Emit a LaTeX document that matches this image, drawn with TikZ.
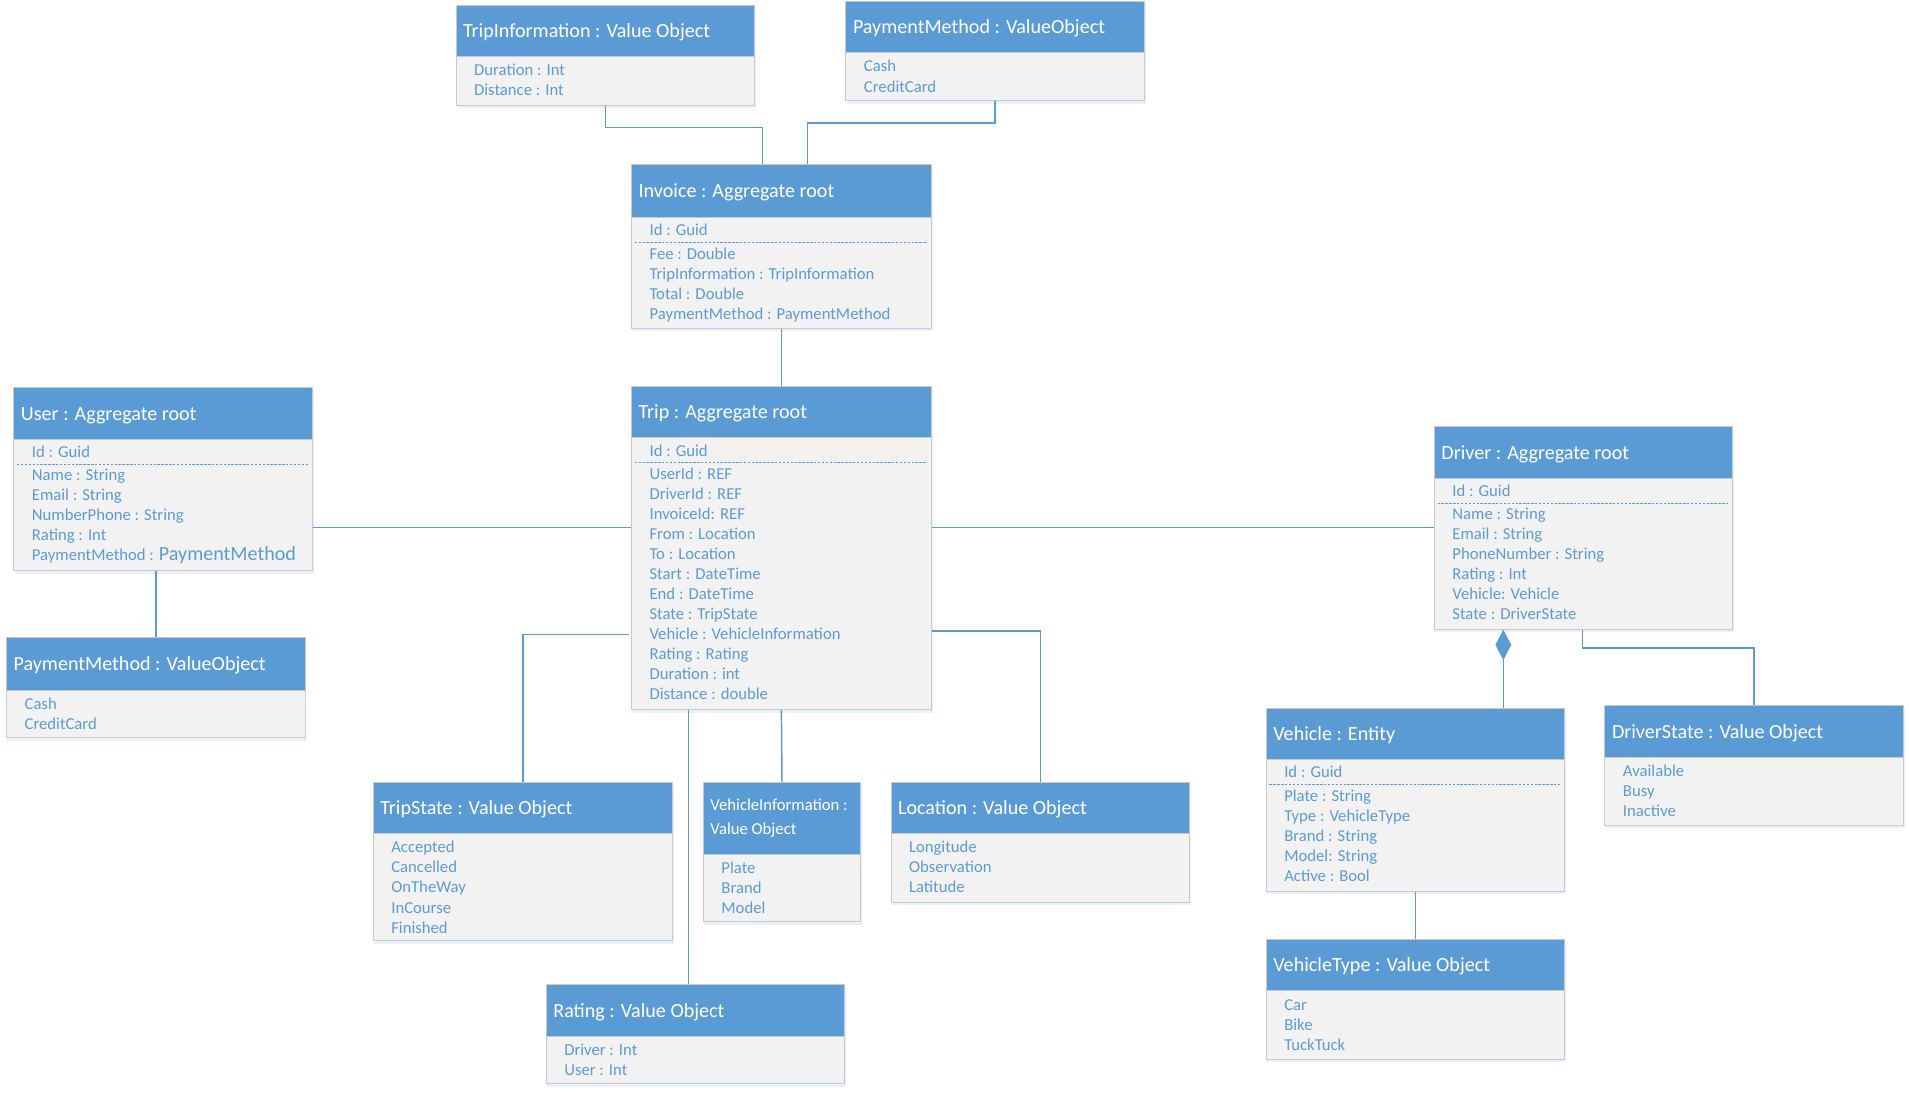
\documentclass[tikz,border=0pt]{standalone}
\usepackage{fontspec}
\setmainfont{Carlito}
\usetikzlibrary{arrows.meta,calc}
\definecolor{ublue}{HTML}{5B9BD5}
\definecolor{ubody}{HTML}{F2F2F2}
\definecolor{uedge}{HTML}{C9C9C9}
\tikzset{
 hdr/.style={fill=ublue, draw=uedge, line width=0.8pt, anchor=north west, inner sep=0pt},
 bdy/.style={fill=ubody, draw=uedge, line width=0.8pt, anchor=north west, inner sep=0pt},
 ttl/.style={anchor=base west, text=white, font=\fontsize{16.5}{19}\selectfont, inner sep=0pt},
 attr/.style={anchor=base west, text=ublue, font=\fontsize{13.7}{16}\selectfont, inner sep=0pt},
 sep/.style={ublue, dash pattern=on 2pt off 1.2pt, line width=0.9pt},
 link/.style={draw=ublue, line width=1.2pt},
 shd/.style={fill=ublue!30, opacity=0.45},
}
\newcommand\umlclass[9]{%
 \fill[shd] (#2+1,#3+2) rectangle (#2+#4+1.5,#3+#5+#6+3);
 \node[hdr, minimum width=#4pt, minimum height=#5pt] (#1-h) at (#2,#3) {};
 \node[bdy, minimum width=#4pt, minimum height=#6pt] (#1) at (#2,#3+#5) {};
 \node[ttl] (#1-title) at (#2+6,#3+#5/2+5.8) {#7};
 \ifnum#8=1
   \node[attr] (#1-id) at (#2+15,#3+#5+11+4.6) {Id : Guid};
   \draw[sep] (#2+3,#3+#5+21) -- (#2+#4-3,#3+#5+21);
   \foreach \t [count=\i] in {#9} \node[attr] (#1-\i) at (#2+15,#3+#5+30+4.6+16.45*\i-16.45) {\t};
 \else
   \foreach \t [count=\i] in {#9} \node[attr] (#1-\i) at (#2+15,#3+#5+11.5+4.6+16.45*\i-16.45) {\t};
 \fi
}
\begin{document}
\begin{tikzpicture}[x=1pt,y=-1pt]
\useasboundingbox[fill=white] (0,0) rectangle (1567,896.4);
% classes
\umlclass{tripinfo}{374}{4}{245}{42}{40}{TripInformation : Value Object}{0}{Duration : Int, Distance : Int}
\umlclass{pmtop}{694}{1}{245}{42}{39}{PaymentMethod : ValueObject}{0}{Cash, CreditCard}
\umlclass{invoice}{518}{135}{246}{43}{91}{Invoice : Aggregate root}{1}{Fee : Double, TripInformation : TripInformation, Total : Double, PaymentMethod : PaymentMethod}
\umlclass{trip}{518}{317}{246}{42}{223}{Trip : Aggregate root}{1}{UserId : REF, DriverId : REF, InvoiceId: REF, From : Location, To : Location, Start : DateTime, End : DateTime, State : TripState, Vehicle : VehicleInformation, Rating : Rating, Duration : int, Distance : double}
\umlclass{user}{11}{318}{245}{42}{108}{User : Aggregate root}{1}{Name : String, Email : String, NumberPhone  : String, Rating : Int, {PaymentMethod : {\fontsize{16.5}{19}\selectfont PaymentMethod}}}
\umlclass{pmleft}{5}{523}{245}{43}{39}{PaymentMethod : ValueObject}{0}{Cash, CreditCard}
\umlclass{driver}{1177}{350}{245}{42}{124}{Driver : Aggregate root}{1}{Name : String, Email : String, PhoneNumber : String, Rating : Int, Vehicle: Vehicle, State : DriverState}
\umlclass{vehicle}{1039}{581}{245}{42}{108}{Vehicle : Entity}{1}{Plate : String, Type : VehicleType, Brand : String, Model: String, Active : Bool}
\umlclass{dstate}{1317}{579}{245}{42}{56}{DriverState : Value Object}{0}{Available, Busy, Inactive}
\umlclass{vtype}{1039}{771}{245}{42}{56}{VehicleType : Value Object}{0}{Car, Bike, TuckTuck}
\umlclass{tstate}{306}{642}{246}{42}{88}{TripState : Value Object}{0}{Accepted, Cancelled, OnTheWay, InCourse, Finished}
\umlclass{vinfo}{577}{642}{129}{59}{55}{}{0}{Plate, Brand, Model}
\node[attr, text=white] (vinfo-t1) at (583,665.6) {VehicleInformation :};
\node[attr, text=white] (vinfo-t2) at (583,684.6) {Value Object};
\umlclass{location}{731}{642}{245}{42}{56}{Location : Value Object}{0}{Longitude, Observation, Latitude}
\umlclass{rating}{448}{808}{245}{42}{39}{Rating : Value Object}{0}{Driver : Int, User : Int}
% connectors
\draw[link] (tripinfo.south) -- ++(0,18) -| ($(invoice-h.north west)+(108,0)$);
\draw[link] (pmtop.south) -- ++(0,18) -| ($(invoice-h.north west)+(145,0)$);
\draw[link] (invoice.south) -- (trip-h.north);
\draw[link] ($(user.north east)+(0,73)$) -- ($(trip.north west)+(0,74)$);
\draw[link] ($(trip.north east)+(0,74)$) -- ($(driver.north west)+(0,41)$);
\draw[link] (user.south -| pmleft-h.north) -- (pmleft-h.north);
\draw[link] ($(trip.north west)+(-2,162)$) -| (tstate-h.north);
\coordinate (rtop) at ($(rating-h.north west)+(117,0)$);
\draw[link] (trip.south -| rtop) -- (rtop);
\draw[link] (trip.south) -- (vinfo-h.north);
\draw[link] ($(trip.north east)+(0,159)$) -| (location-h.north);
\coordinate (dvtop) at ($(driver.south west)+(57,0)$);
\draw[link, {Diamond[length=25pt,width=13pt]}-, fill=ublue] (dvtop) -- (dvtop |- vehicle-h.north);
\draw[link] ($(driver.south west)+(122,0)$) -- ++(0,15) -| (dstate-h.north);
\draw[link] (vehicle.south) -- (vtype-h.north);
\end{tikzpicture}
\end{document}
